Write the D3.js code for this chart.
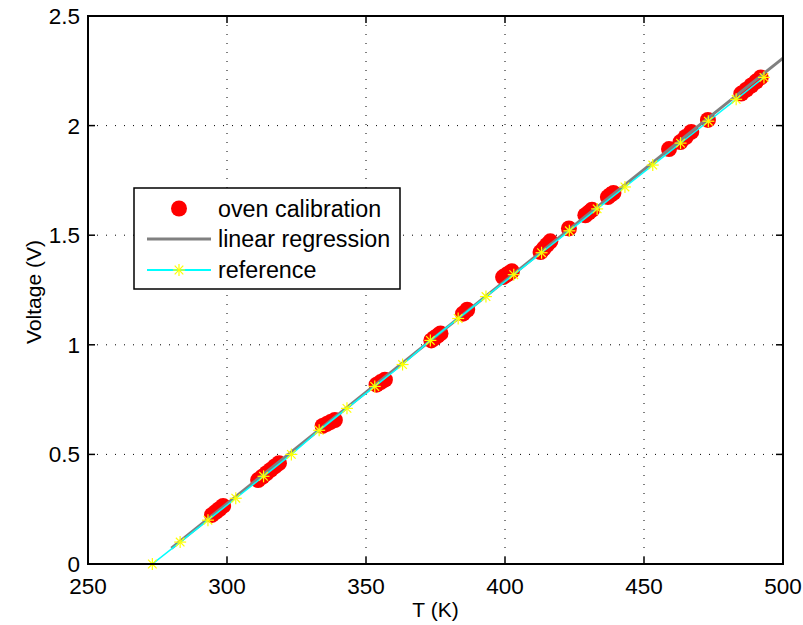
<!DOCTYPE html>
<html><head><meta charset="utf-8">
<script src="https://cdn.jsdelivr.net/npm/d3@7"></script>
<style>body{margin:0;background:#fff;} text{font-family:"Liberation Sans",Arial,sans-serif;}</style>
</head><body><svg id="c" width="803" height="625"></svg>
<script>
// Oven calibration measurements (T in K, V in volts)
const calT = [294.6,296.0,297.3,298.6, 311.2,312.7,314.2,315.7,317.2,318.7, 334.4,335.9,337.3,338.8,
  353.8,355.3,356.8, 373.5,374.6,375.7,376.8, 384.9,386.4, 399.3,400.4,401.4,402.5,
  412.8,414.0,415.1,416.3, 423.0, 428.9,430.1,431.3, 437.0,438.0,439.0, 459.0,
  463.1,465.0,467.0, 473.0, 485.0,486.8,488.6,490.3,492.0];
const calV = [0.224,0.238,0.251,0.265, 0.383,0.398,0.414,0.429,0.445,0.460, 0.630,0.639,0.648,0.657,
  0.818,0.830,0.841, 1.020,1.031,1.041,1.052, 1.142,1.160, 1.309,1.318,1.326,1.335,
  1.423,1.440,1.456,1.472, 1.531, 1.591,1.603,1.616, 1.674,1.684,1.693, 1.893,
  1.925,1.948,1.971, 2.026, 2.146,2.164,2.183,2.201,2.220];
// Linear regression endpoints
const regT = [280, 500];
const regV = [0.072, 2.308];
// Reference curve
const refT = [273.15,283.15,293.15,303.15,313.15,323.15,333.15,343.15,353.15,363.15,373.15,383.15,
  393.15,403.15,413.15,423.15,433.15,443.15,453.15,463.15,473.15,483.15,493.15];
const refV = [0,0.10,0.20,0.30,0.40,0.50,0.61,0.71,0.81,0.91,1.02,1.12,1.22,1.32,1.42,1.52,1.62,
  1.72,1.82,1.92,2.02,2.12,2.22];
const xTicks = [250,300,350,400,450,500];
const yTicks = [0,0.5,1,1.5,2,2.5];
const yTickLabels = ["0","0.5","1","1.5","2","2.5"];
const legendLabels = ["oven calibration","linear regression","reference"];

const svg = d3.select("#c");
const L=88, R=783, T=16, B=564;
const x = d3.scaleLinear().domain([250,500]).range([L,R]);
const y = d3.scaleLinear().domain([0,2.5]).range([B,T]);

svg.append("defs").append("clipPath").attr("id","clip")
  .append("rect").attr("x",L).attr("y",T).attr("width",R-L).attr("height",B-T);

// grid
const g = svg.append("g");
g.selectAll(".gx").data(xTicks.slice(1,-1)).enter().append("line")
  .attr("x1",d=>x(d)).attr("x2",d=>x(d)).attr("y1",T).attr("y2",B)
  .attr("stroke","#000").attr("stroke-width",1).attr("stroke-dasharray","1,8");
g.selectAll(".gy").data(yTicks.slice(1,-1)).enter().append("line")
  .attr("y1",d=>y(d)).attr("y2",d=>y(d)).attr("x1",L).attr("x2",R)
  .attr("stroke","#000").attr("stroke-width",1).attr("stroke-dasharray","1,8");

const plot = svg.append("g").attr("clip-path","url(#clip)");
// red dots
plot.selectAll(".d").data(calT).enter().append("circle")
  .attr("cx",d=>x(d)).attr("cy",(d,i)=>y(calV[i])).attr("r",8).attr("fill","#ff0000");
// regression line
plot.append("path").datum(regT.map((t,i)=>[t,regV[i]]))
  .attr("d",d3.line().x(d=>x(d[0])).y(d=>y(d[1])))
  .attr("stroke","#808080").attr("stroke-width",3).attr("fill","none");
// reference line
const refData = refT.map((t,i)=>[t,refV[i]]);
plot.append("path").datum(refData)
  .attr("d",d3.line().x(d=>x(d[0])).y(d=>y(d[1])))
  .attr("stroke","#00ffff").attr("stroke-width",1.5).attr("fill","none");

function star(sel, cx, cy){
  const s=6, d=4.3;
  const st = sel.append("g").attr("transform",`translate(${cx},${cy})`)
    .attr("stroke","#ffff00").attr("stroke-width",1.2);
  st.append("line").attr("x1",-s).attr("x2",s).attr("y1",0).attr("y2",0);
  st.append("line").attr("y1",-s).attr("y2",s).attr("x1",0).attr("x2",0);
  st.append("line").attr("x1",-d).attr("x2",d).attr("y1",-d).attr("y2",d);
  st.append("line").attr("x1",-d).attr("x2",d).attr("y1",d).attr("y2",-d);
}
const starG = svg.append("g");
refData.forEach(d=>star(starG, x(d[0]), y(d[1])));

// axes box
svg.append("rect").attr("x",L).attr("y",T).attr("width",R-L).attr("height",B-T)
  .attr("fill","none").attr("stroke","#000").attr("stroke-width",2);

// ticks (inward, mirrored)
const tk = 7;
const ax = svg.append("g").attr("stroke","#000").attr("stroke-width",1.5);
xTicks.forEach(t=>{
  ax.append("line").attr("x1",x(t)).attr("x2",x(t)).attr("y1",B).attr("y2",B-tk);
  ax.append("line").attr("x1",x(t)).attr("x2",x(t)).attr("y1",T).attr("y2",T+tk);
});
yTicks.forEach(t=>{
  ax.append("line").attr("y1",y(t)).attr("y2",y(t)).attr("x1",L).attr("x2",L+tk);
  ax.append("line").attr("y1",y(t)).attr("y2",y(t)).attr("x1",R).attr("x2",R-tk);
});

// tick labels
svg.selectAll(".xl").data(xTicks).enter().append("text")
  .attr("x",d=>x(d)).attr("y",594).attr("text-anchor","middle")
  .attr("font-size",22.5).text(d=>d);
svg.selectAll(".yl").data(yTicks).enter().append("text")
  .attr("x",80).attr("y",d=>y(d)+8).attr("text-anchor","end")
  .attr("font-size",22.5).text((d,i)=>yTickLabels[i]);

// axis titles
svg.append("text").attr("x",x(375)).attr("y",617).attr("text-anchor","middle")
  .attr("font-size",21).text("T (K)");
svg.append("text").attr("transform",`translate(41,292) rotate(-90)`)
  .attr("text-anchor","middle").attr("font-size",21).text("Voltage (V)");

// legend
const lg = svg.append("g");
lg.append("rect").attr("x",134).attr("y",188).attr("width",266).attr("height",101)
  .attr("fill","#fff").attr("stroke","#000").attr("stroke-width",1.5);
const rows=[208.5,239,270];
lg.append("circle").attr("cx",179).attr("cy",rows[0]).attr("r",8).attr("fill","#ff0000");
lg.append("line").attr("x1",147).attr("x2",211).attr("y1",rows[1]).attr("y2",rows[1])
  .attr("stroke","#808080").attr("stroke-width",3);
lg.append("line").attr("x1",147).attr("x2",211).attr("y1",rows[2]).attr("y2",rows[2])
  .attr("stroke","#00ffff").attr("stroke-width",2);
star(lg,179,rows[2]);
lg.selectAll(".lt").data(legendLabels).enter().append("text")
  .attr("x",218).attr("y",(d,i)=>rows[i]+8).attr("font-size",23.3).text(d=>d);
</script></body></html>
